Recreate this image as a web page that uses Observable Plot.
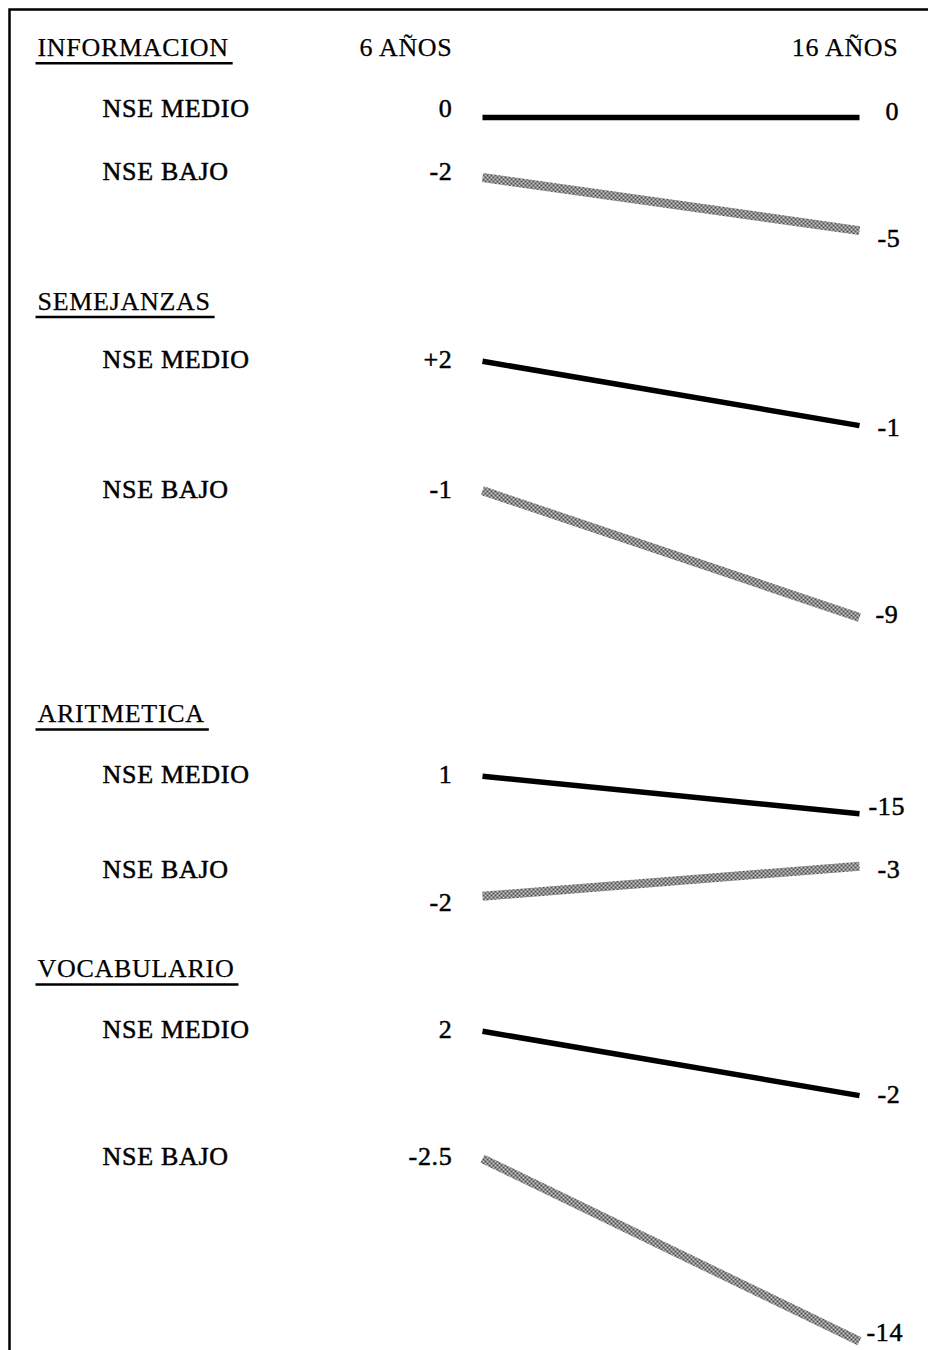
<!DOCTYPE html>
<html>
<head>
<meta charset="utf-8">
<script src="https://cdn.jsdelivr.net/npm/d3@7"></script>
<script src="https://cdn.jsdelivr.net/npm/@observablehq/plot@0.6"></script>
<style>
  html, body { margin: 0; padding: 0; background: #fff; overflow: hidden; }
  #chart svg { display: block; font-family: "Liberation Serif", "Times New Roman", serif; }
  #chart svg text { letter-spacing: 0.7px; }
</style>
</head>
<body>
<div id="chart"></div>
<script>
// ---- data ----
const tests = ["INFORMACION", "SEMEJANZAS", "ARITMETICA", "VOCABULARIO"];
const groups = ["NSE MEDIO", "NSE BAJO"];
const ageLabels = ["6 AÑOS", "16 AÑOS"];
const ages = [6, 16];
const value6 = [0, -2, 2, -1, 1, -2, 2, -2.5];
const value16 = [0, -5, -1, -9, -15, -3, -2, -14];
const label6 = ["0", "-2", "+2", "-1", "1", "-2", "2", "-2.5"];
const label16 = ["0", "-5", "-1", "-9", "-15", "-3", "-2", "-14"];

// ---- layout (vertical levels, in line units of the schematic) ----
const headerLevel = [0, 4.06, 10.66, 14.74];
const rowLevel = [0.98, 1.98, 4.99, 7.07, 11.63, 13.15, 15.72, 17.75];
const startLabelLevel = [0.98, 1.98, 4.99, 7.07, 11.63, 13.68, 15.72, 17.75];
const lineLevel6 = [1.12, 2.08, 5.02, 7.09, 11.66, 13.58, 15.74, 17.78];
const lineLevel16 = [1.12, 2.93, 6.05, 9.12, 12.26, 13.10, 16.77, 20.70];
const endLabelLevel = [1.02, 3.06, 6.08, 9.07, 12.14, 13.16, 16.75, 20.56];
const endLabelGap = [26, 18, 18, 16, 9, 18, 18, 7];

const rows = value6.map((v, i) => ({
  test: tests[Math.floor(i / 2)],
  group: groups[i % 2],
  v6: v, v16: value16[i],
  l6: label6[i], l16: label16[i],
  row: rowLevel[i], s: startLabelLevel[i],
  y6: lineLevel6[i], y16: lineLevel16[i],
  e: endLabelLevel[i], gap: endLabelGap[i]
}));
const headers = tests.map((t, i) => ({test: t, level: headerLevel[i]}));
const medio = rows.filter(d => d.group === "NSE MEDIO");
const bajo = rows.filter(d => d.group === "NSE BAJO");

const font = {fontFamily: "Liberation Serif, Times New Roman, serif", fontSize: 26, fill: "black", stroke: "black", strokeWidth: 0.25};
const bold = {...font, strokeWidth: 0.5};

const plot = Plot.plot({
  width: 928,
  height: 1350,
  margin: 0,
  x: {type: "linear", domain: [6, 16], range: [482, 859], axis: null},
  y: {type: "linear", domain: [-0.752, 20.848], range: [0, 1350], axis: null},
  marks: [
    Plot.frame({insetLeft: 9, insetTop: 9, insetRight: -40, insetBottom: -40, stroke: "black", strokeWidth: 2.5}),
    // test headers
    Plot.text(headers, {x: 6, y: "level", text: "test", textAnchor: "start", dx: -445, ...font, ariaDescription: "headers"}),
    // age headers
    Plot.text(ages, {x: d => d, y: 0, text: (d, i) => ageLabels[i], textAnchor: "end", ...font, ariaDescription: "ages"}),
    // group labels
    Plot.text(rows, {x: 6, y: "row", text: "group", textAnchor: "start", dx: -380, ...bold}),
    // start values
    Plot.text(rows, {x: 6, y: "s", text: "l6", textAnchor: "end", dx: -30, ...bold}),
    // lines
    Plot.link(bajo, {x1: 6, x2: 16, y1: "y6", y2: "y16", stroke: "#8c8c8c", strokeWidth: 9, strokeLinecap: "butt", ariaDescription: "bajo"}),
    Plot.link(medio, {x1: 6, x2: 16, y1: "y6", y2: "y16", stroke: "black", strokeWidth: 5.5, strokeLinecap: "butt"}),
    // end values
    Plot.text(rows, {x: 16, y: "e", text: "l16", textAnchor: "start", ...bold, ariaDescription: "endvalues"})
  ]
});

document.getElementById("chart").appendChild(plot);
const svg = d3.select(plot);

// per-label gaps for end values
svg.select('g[aria-description="endvalues"]').selectAll("text").each(function(_, k) {
  const t = d3.select(this);
  t.attr("transform", (t.attr("transform") || "") + ` translate(${rows[k].gap},0)`);
});
// age header offsets: 6 AÑOS ends at the start-value column, 16 AÑOS at the right edge
svg.select('g[aria-description="ages"]').selectAll("text").each(function(_, k) {
  const t = d3.select(this);
  t.attr("transform", (t.attr("transform") || "") + ` translate(${k === 0 ? -30 : 39},0)`);
});
// dithered grey texture for NSE BAJO lines
const defs = svg.insert("defs", ":first-child");
const pat = defs.append("pattern").attr("id", "dither").attr("patternUnits", "userSpaceOnUse")
  .attr("width", 4).attr("height", 4);
pat.append("rect").attr("width", 4).attr("height", 4).attr("fill", "#cacaca");
pat.append("rect").attr("width", 2).attr("height", 2).attr("fill", "#4e4e4e");
pat.append("rect").attr("x", 2).attr("y", 2).attr("width", 2).attr("height", 2).attr("fill", "#4e4e4e");
svg.select('g[aria-description="bajo"]').attr("stroke", "url(#dither)")
  .selectAll("path,line").attr("stroke", "url(#dither)");
// underline the test headers
const svgBox = plot.getBoundingClientRect();
svg.select('g[aria-description="headers"]').selectAll("text").each(function() {
  const b = this.getBoundingClientRect();
  const x0 = b.left - svgBox.left, x1 = b.right - svgBox.left;
  const yb = b.bottom - svgBox.top + 1.5;
  svg.append("line").attr("x1", x0 - 2).attr("x2", x1 + 4).attr("y1", yb).attr("y2", yb)
    .attr("stroke", "black").attr("stroke-width", 2.4);
});
</script>
</body>
</html>
